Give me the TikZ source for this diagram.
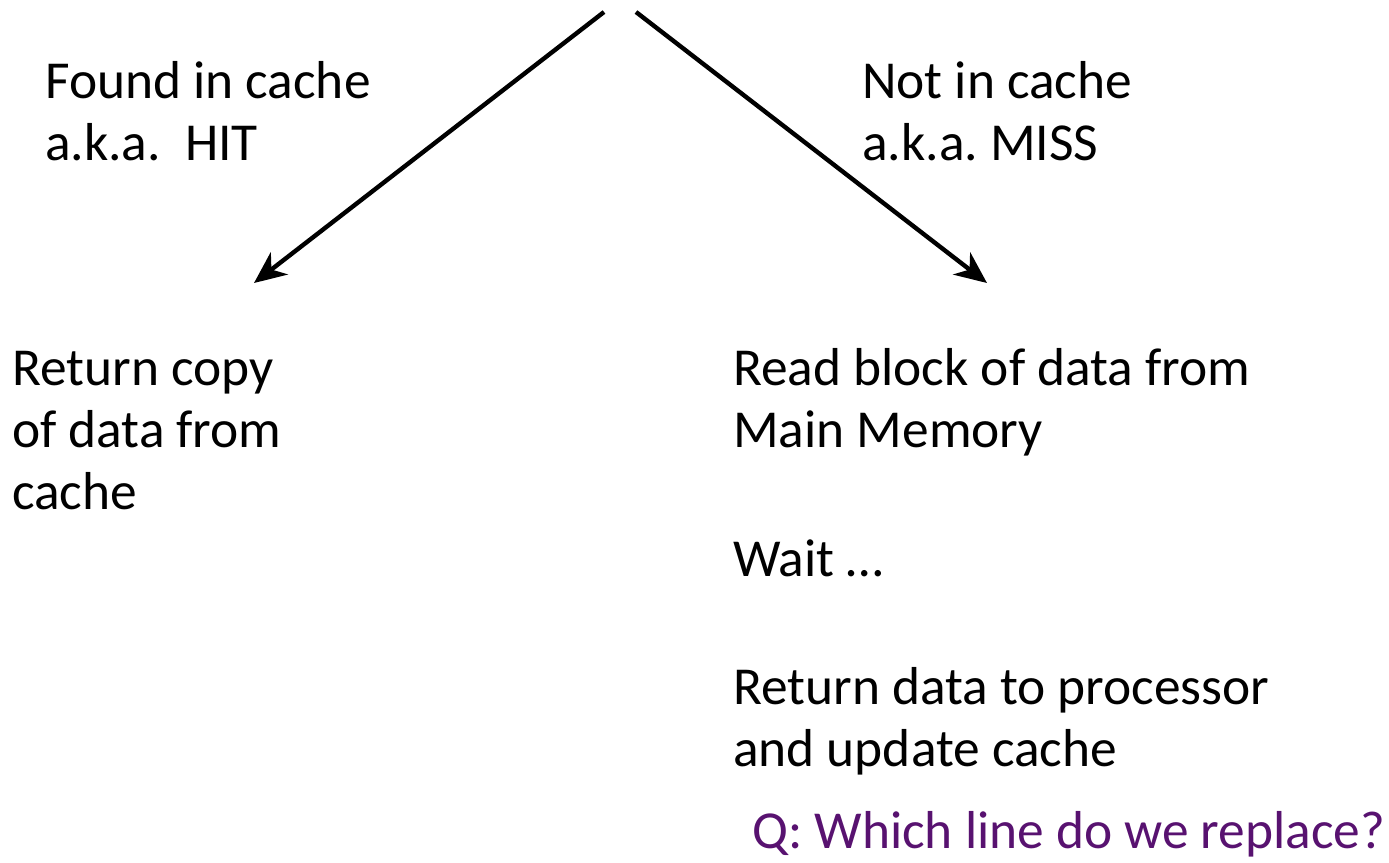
\documentclass[tikz,border=0pt]{standalone}
\usepackage{fontspec}
\setmainfont{Carlito}
\usetikzlibrary{arrows.meta}
\definecolor{qpurple}{RGB}{88,18,112}
\tikzset{
  txt/.style={anchor=base west, inner sep=0pt, align=left,
    font=\fontsize{53.4}{62}\selectfont},
  branch/.style={line width=4.4pt, -{Stealth[length=32pt, width=28pt, inset=10pt]}},
}
\begin{document}
\begin{tikzpicture}[x=1pt, y=-1pt]
  \useasboundingbox (0,0) rectangle (1389,862);
  % decision branches
  \coordinate (hitstart) at (604,12);
  \coordinate (missstart) at (636,12);
  \coordinate (hitend) at (254,283);
  \coordinate (missend) at (987,283);
  \draw[branch] (hitstart) -- (hitend);
  \draw[branch] (missstart) -- (missend);
  % branch labels (anchored at the baseline of their last line)
  \node[txt] (hitlbl) at (45,160) {Found in cache\\a.k.a.\ \ HIT};
  \node[txt] (misslbl) at (862,160) {Not in cache\\a.k.a.\ MISS};
  % actions
  \node[txt] (hitact) at (12,509) {Return copy\\of data from\\cache};
  \node[txt] (read) at (733,447) {Read block of data from\\Main Memory};
  \node[txt] (wait) at (733,576) {Wait …};
  \node[txt] (ret) at (733,766) {Return data to processor\\and update cache};
  \node[txt, text=qpurple] (q) at (752,848) {Q: Which line do we replace?};
\end{tikzpicture}
\end{document}
